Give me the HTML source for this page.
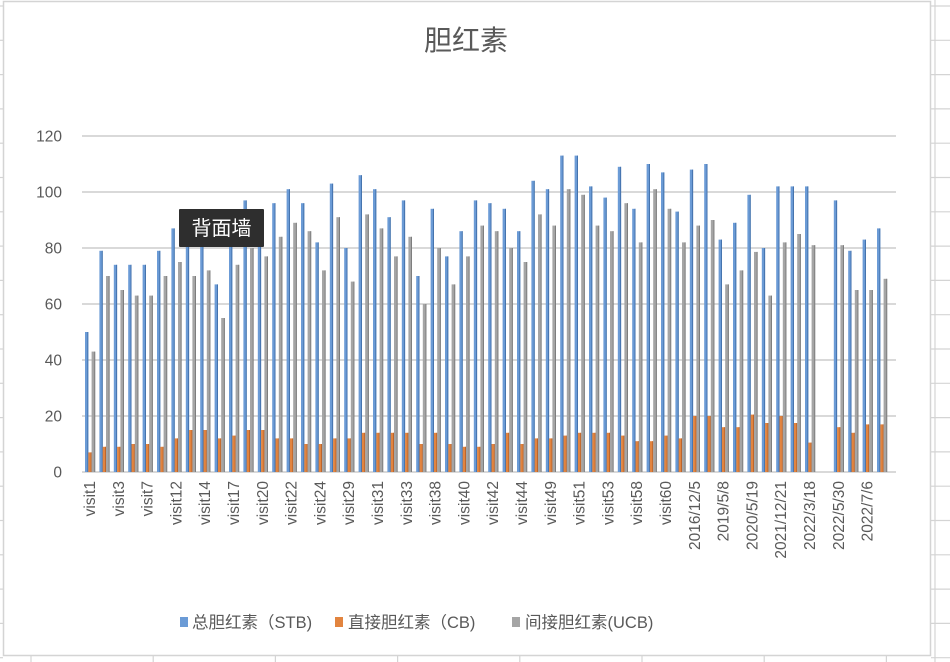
<!DOCTYPE html>
<html><head><meta charset="utf-8">
<style>
html,body{margin:0;padding:0;background:#fff;}
svg{display:block;font-family:"Liberation Sans","Noto Sans CJK SC",sans-serif;}
</style></head>
<body>
<svg id="c" width="950" height="662" viewBox="0 0 950 662" xmlns="http://www.w3.org/2000/svg">
<rect x="0" y="0" width="950" height="662" fill="#fff"/>
<g id="sheet" stroke="#d4d4d4" stroke-width="1.2"></g>
<rect x="3.5" y="1.5" width="927" height="654" fill="#fff" stroke="#d4d4d4" stroke-width="1.5"/>
<text x="466" y="50" font-size="28" fill="#595959" text-anchor="middle">胆红素</text>
<g id="grid" stroke="#d9d9d9" stroke-width="2"></g>
<g id="ylab" font-size="15.5" fill="#595959" text-anchor="end"></g>
<g id="bars"></g>
<g id="xlab" font-size="15.5" fill="#595959"></g>
<g font-size="16.5" fill="#595959">
<rect x="180" y="617" width="8" height="10" fill="#6b9bd6"/>
<text x="192" y="628">总胆红素（STB)</text>
<rect x="335" y="617" width="8" height="10" fill="#e2843f"/>
<text x="348" y="628">直接胆红素（CB)</text>
<rect x="512" y="617" width="8" height="10" fill="#a5a5a5"/>
<text x="525" y="628">间接胆红素(UCB)</text>
</g>
<rect x="179" y="209" width="85" height="38" fill="#2e2e2e" rx="1"/>
<text x="221.5" y="235" font-size="20" fill="#fff" text-anchor="middle">背面墙</text>
</svg>
<script>
var NS="http://www.w3.org/2000/svg";
function el(p,t,a,txt){var e=document.createElementNS(NS,t);for(var k in a)e.setAttribute(k,a[k]);if(txt)e.textContent=txt;p.appendChild(e);return e;}
var sheet=document.getElementById('sheet');
for(var y=6;y<662;y+=34.3){el(sheet,'line',{x1:0,y1:y,x2:3,y2:y});el(sheet,'line',{x1:931,y1:y,x2:950,y2:y});}
for(var x=31;x<950;x+=122.2){el(sheet,'line',{x1:x,y1:656,x2:x,y2:662});}
el(sheet,'line',{x1:935,y1:0,x2:935,y2:662});
var grid=document.getElementById('grid'),yl=document.getElementById('ylab');
for(var i=0;i<=6;i++){var yy=472-56*i;el(grid,'line',{x1:82,y1:yy,x2:896,y2:yy});el(yl,'text',{x:62,y:yy+5.5},String(i*20));}
var S=[50,79,74,74,74,79,87,85,87,67,87,97,92,96,101,96,82,103,80,106,101,91,97,70,94,77,86,97,96,94,86,104,101,113,113,102,98,109,94,110,107,93,108,110,83,89,99,80,102,102,102,null,97,79,83,87];
var C=[7,9,9,10,10,9,12,15,15,12,13,15,15,12,12,10,10,12,12,14,14,14,14,10,14,10,9,9,10,14,10,12,12,13,14,14,14,13,11,11,13,12,20,20,16,16,20.5,17.5,20,17.5,10.5,null,16,14,17,17];
var U=[43,70,65,63,63,70,75,70,72,55,74,80,77,84,89,86,72,91,68,92,87,77,84,60,80,67,77,88,86,80,75,92,88,101,99,88,86,96,82,101,94,82,88,90,67,72,78.6,63,82,85,81,null,81,65,65,69];
var bars=document.getElementById('bars');
function bar(x,w,v,f,d){if(v==null)return;var h=v*2.8;el(bars,'rect',{x:x,y:472-h,width:w,height:h,fill:f});el(bars,'rect',{x:x+w-0.9,y:472-h,width:0.9,height:h,fill:d});}
for(var k=0;k<56;k++){var x0=85+14.4*k;
bar(x0,3.3,S[k],'#6b9bd6','#3f6ea8');bar(x0+3.3,3.3,C[k],'#e2843f','#b8622a');bar(x0+6.6,3.6,U[k],'#a5a5a5','#7a7a7a');}
var L=["visit1","visit3","visit7","visit12","visit14","visit17","visit20","visit22","visit24","visit29","visit31","visit33","visit38","visit40","visit42","visit44","visit49","visit51","visit53","visit58","visit60","2016/12/5","2019/5/8","2020/5/19","2021/12/21","2022/3/18","2022/5/30","2022/7/6"];
var xl=document.getElementById('xlab');
for(var j=0;j<L.length;j++){var cx=90+28.8*j+5;el(xl,'text',{x:0,y:0,transform:'translate('+cx+',481) rotate(-90)','text-anchor':'end'},L[j]);}
</script>
</body></html>
